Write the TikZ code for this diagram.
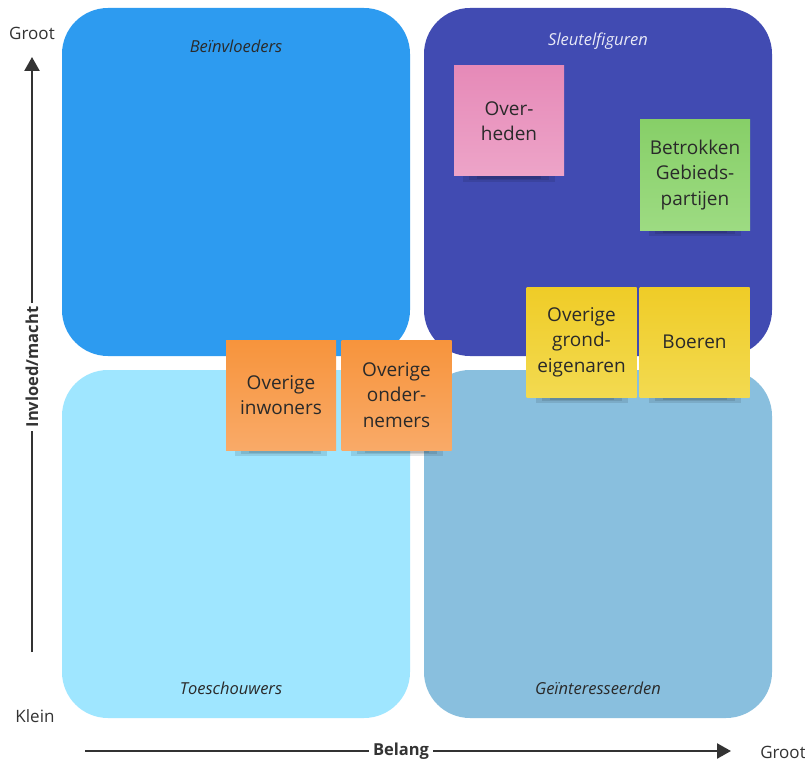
\documentclass[tikz,border=0pt]{standalone}
\usepackage{fontspec}
\setmainfont{Open Sans}
\usetikzlibrary{arrows.meta}
\definecolor{qone}{HTML}{2D9BF0}
\definecolor{qtwo}{HTML}{414BB2}
\definecolor{qthree}{HTML}{9FE6FF}
\definecolor{qfour}{HTML}{89BFDE}
\definecolor{axisgray}{HTML}{333333}
\definecolor{txtdark}{HTML}{2A2A2A}
\definecolor{pink1}{HTML}{E68AB8}
\definecolor{pink2}{HTML}{EDA4C8}
\definecolor{green1}{HTML}{87CF68}
\definecolor{green2}{HTML}{9DDB82}
\definecolor{yellow1}{HTML}{EFCC27}
\definecolor{yellow2}{HTML}{F3DA50}
\definecolor{orange1}{HTML}{F7943C}
\definecolor{orange2}{HTML}{F9AA68}
\tikzset{
  quad/.style={rounded corners=46pt, minimum width=348pt, minimum height=348pt, inner sep=0pt, draw=none},
  qlabel/.style={font=\fontsize{16.5}{18}\selectfont\itshape, text=txtdark},
  sticky/.style={minimum width=110pt, minimum height=110pt, inner sep=2pt, align=center,
     text=txtdark, font=\fontsize{19}{25.5}\selectfont},
  noteshadow/.style={fill=black, opacity=0.1},
  pinknote/.style={sticky, top color=pink1, bottom color=pink2},
  greennote/.style={sticky, top color=green1, bottom color=green2},
  yellownote/.style={sticky, top color=yellow1, bottom color=yellow2},
  orangenote/.style={sticky, top color=orange1, bottom color=orange2},
  axisline/.style={line width=2.4pt, draw=axisgray},
  axisarrow/.style={axisline, -{Triangle[length=14pt,width=15pt]}},
  endlabel/.style={font=\fontsize{17}{19}\selectfont, text=axisgray},
  axislabel/.style={font=\fontsize{16.5}{18}\selectfont\bfseries, text=axisgray, fill=white, inner xsep=4pt, inner ysep=2pt}
}
\begin{document}
\begin{tikzpicture}[x=1pt,y=-1pt]
\useasboundingbox[fill=white] (0,0) rectangle (805,762);
% quadrants
\node[quad, fill=qone] (beinv) at (236,182) {};
\node[quad, fill=qtwo] (sleutel) at (598,182) {};
\node[quad, fill=qthree] (toesch) at (236,544) {};
\node[quad, fill=qfour] (geint) at (598,544) {};
% quadrant labels
\node[qlabel] (lbeinv) at (236,46) {Beïnvloeders};
\node[qlabel, text=white!88!qtwo] (lsleutel) at (598,41) {Sleutelfiguren};
\node[qlabel] (ltoesch) at (231,688) {Toeschouwers};
\node[qlabel] (lgeint) at (598,688) {Geïnteresseerden};
% note shadows
\foreach \cx/\cy in {509/121, 695/175, 581.5/342, 694.5/342, 281/395, 396.5/395}{
  \fill[noteshadow] (\cx-46,\cy+50) rectangle (\cx+46,\cy+61);
  \fill[noteshadow] (\cx-40,\cy+52) rectangle (\cx+40,\cy+59);
  \fill[noteshadow] (\cx-32,\cy+53) rectangle (\cx+32,\cy+58);
}
% sticky notes
\node[pinknote] (overheden) at (509,121) {Over-\\heden};
\node[greennote] (betrokken) at (695,175) {Betrokken\\Gebieds-\\partijen};
\node[yellownote] (grond) at (581.5,342) {Overige\\grond-\\eigenaren};
\node[yellownote] (boeren) at (694.5,342) {Boeren};
\node[orangenote] (inwoners) at (281,395) {Overige\\inwoners};
\node[orangenote] (ondernemers) at (396.5,395) {Overige\\onder-\\nemers};
% axes
\coordinate (vbot) at (32,652);
\coordinate (vtop) at (32,57);
\coordinate (hleft) at (85,751);
\coordinate (hright) at (731,751);
\draw[axisarrow] (vbot) -- (vtop);
\draw[axisarrow] (hleft) -- (hright);
\node[axislabel, rotate=90] (invloed) at (32,367) {Invloed/macht};
\node[axislabel] (belang) at (401,751) {Belang};
\node[endlabel] (grootv) at (32,33) {Groot};
\node[endlabel] (klein) at (35,716) {Klein};
\node[endlabel] (grooth) at (783,752) {Groot};
\end{tikzpicture}
\end{document}
